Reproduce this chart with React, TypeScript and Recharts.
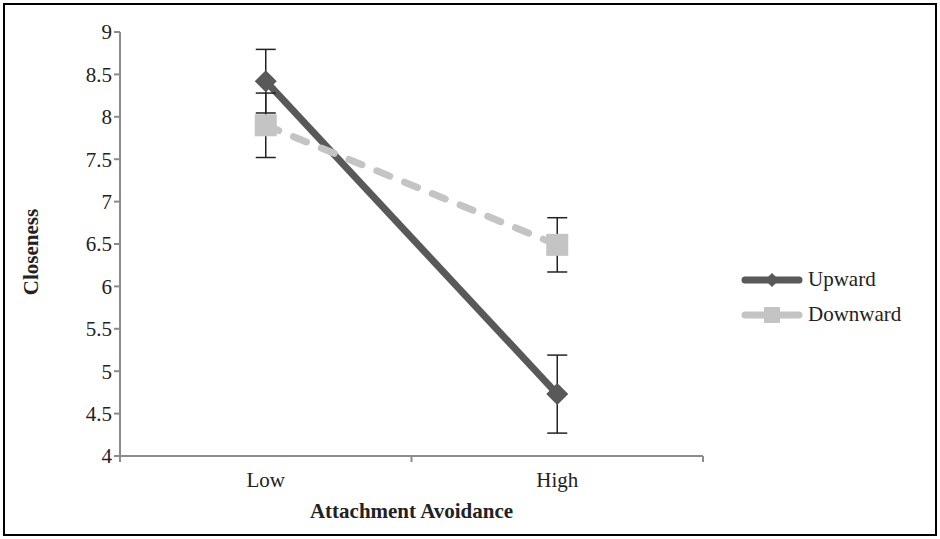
import React from "react";
import { LineChart, Line, XAxis, YAxis, ErrorBar } from "recharts";

// --- data ---
const categories = ["Low", "High"];
const upward = [8.42, 4.73];
const upwardErr = [0.375, 0.46];
const downward = [7.9, 6.49];
const downwardErr = [0.38, 0.32];
const yTicks = [4, 4.5, 5, 5.5, 6, 6.5, 7, 7.5, 8, 8.5, 9];

const data = categories.map((c, i) => ({
  x: i + 0.5,
  name: c,
  upward: upward[i],
  upwardErr: upwardErr[i],
  downward: downward[i],
  downwardErr: downwardErr[i],
}));

const FONT = "Liberation Serif, Tinos, Times New Roman, DejaVu Serif, serif";
const FS = 21;
const AXIS = "#8c8c8c";
const DARK = "#595959";
const LIGHT = "#c4c4c4";

const Diamond = (props: any) => {
  const { cx, cy } = props;
  if (cx == null || cy == null) return null;
  const r = 11;
  return (
    <polygon
      points={`${cx},${cy - r} ${cx + r},${cy} ${cx},${cy + r} ${cx - r},${cy}`}
      fill={DARK}
    />
  );
};

const Square = (props: any) => {
  const { cx, cy } = props;
  if (cx == null || cy == null) return null;
  const r = 11;
  return <rect x={cx - r} y={cy - r} width={2 * r} height={2 * r} fill={LIGHT} />;
};

// ticks at band edges get a short line, ticks at band centers get the category label
const XTick = (props: any) => {
  const { x, y, payload } = props;
  const v = payload.value;
  if (Number.isInteger(v)) {
    return <line x1={x} x2={x} y1={y - 16} y2={y - 10} stroke={AXIS} strokeWidth={2} />;
  }
  return (
    <text x={x} y={y} dy="0.71em" textAnchor="middle" style={{ fontFamily: FONT }} fontSize={FS} fill="#222">
      {categories[Math.floor(v)]}
    </text>
  );
};

const YLabel = (props: any) => {
  const { viewBox } = props;
  const cx = viewBox.x + 31;
  const cy = viewBox.y + viewBox.height / 2 + 8;
  return (
    <text
      x={cx}
      y={cy}
      transform={`rotate(-90 ${cx} ${cy})`}
      textAnchor="middle"
      dominantBaseline="central"
      style={{ fontFamily: FONT }}
      fontSize={FS}
      fontWeight="bold"
      fill="#222"
    >
      Closeness
    </text>
  );
};

const XLabel = (props: any) => {
  const { viewBox } = props;
  const cx = viewBox.x + viewBox.width / 2;
  const cy = viewBox.y + 55;
  return (
    <text
      x={cx}
      y={cy}
      textAnchor="middle"
      dominantBaseline="central"
      style={{ fontFamily: FONT }}
      fontSize={FS}
      fontWeight="bold"
      fill="#222"
    >
      Attachment Avoidance
    </text>
  );
};

const legendItems = [
  { label: "Upward", color: DARK, marker: "diamond" },
  { label: "Downward", color: LIGHT, marker: "square" },
];

export default function App() {
  return (
    <div style={{ position: "absolute", left: 0, top: 0, width: 940, height: 539, background: "#fff", fontFamily: FONT }}>
      <LineChart width={940} height={539} data={data} margin={{ top: 32, right: 237, left: 0, bottom: 0 }}>
        <XAxis
          type="number"
          dataKey="x"
          domain={[0, 2]}
          ticks={[0, 0.5, 1, 1.5, 2]}
          tick={<XTick />}
          tickLine={false}
          tickSize={6}
          tickMargin={10}
          height={83}
          stroke={AXIS}
          strokeWidth={2}
          label={<XLabel />}
        />
        <YAxis
          type="number"
          domain={[4, 9]}
          ticks={yTicks}
          width={120}
          tickSize={6}
          tickMargin={2}
          stroke={AXIS}
          strokeWidth={2}
          tick={{ style: { fontFamily: FONT }, fontSize: FS, fill: "#222" }}
          label={<YLabel />}
        />
        <Line
          dataKey="upward"
          stroke={DARK}
          strokeWidth={7}
          dot={<Diamond />}
          activeDot={false}
          isAnimationActive={false}
        >
          <ErrorBar dataKey="upwardErr" direction="y" width={10} stroke="#222" strokeWidth={1.5} />
        </Line>
        <Line
          dataKey="downward"
          stroke={LIGHT}
          strokeWidth={7}
          strokeDasharray="14 16"
          strokeLinecap="round"
          dot={<Square />}
          activeDot={false}
          isAnimationActive={false}
        >
          <ErrorBar dataKey="downwardErr" direction="y" width={10} stroke="#222" strokeWidth={1.5} />
        </Line>
      </LineChart>

      {/* legend */}
      <div style={{ position: "absolute", left: 740, top: 262, fontFamily: FONT, fontSize: FS, color: "#222" }}>
        {legendItems.map((it) => (
          <div key={it.label} style={{ display: "flex", alignItems: "center", height: 35 }}>
            <svg width={66} height={20} style={{ marginRight: 2 }}>
              <line x1={5} x2={59} y1={10} y2={10} stroke={it.color} strokeWidth={7} strokeLinecap="round" />
              {it.marker === "diamond" ? (
                <polygon points="32,3 39,10 32,17 25,10" fill={it.color} />
              ) : (
                <rect x={24} y={2} width={16} height={16} fill={it.color} />
              )}
            </svg>
            <span>{it.label}</span>
          </div>
        ))}
      </div>

      {/* frame */}
      <div
        style={{
          position: "absolute",
          left: 3,
          top: 3,
          right: 3,
          bottom: 3,
          border: "2px solid #000",
          pointerEvents: "none",
        }}
      />
    </div>
  );
}
